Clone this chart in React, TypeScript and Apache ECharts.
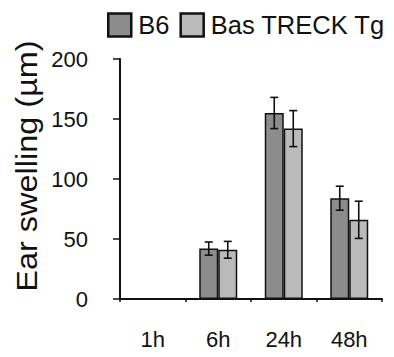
import React, { useEffect, useRef } from "react";
import * as echarts from "echarts";

const categories = ["1h", "6h", "24h", "48h"];
const b6Means: (number | null)[] = [null, 42, 155, 84];
const b6Errors: (number | null)[] = [null, 5.5, 13, 10];
const tgMeans: (number | null)[] = [null, 41, 142, 66];
const tgErrors: (number | null)[] = [null, 7, 15, 15.5];
const yTicks = [0, 50, 100, 150, 200];

const FONT = "'Liberation Sans', Arial, sans-serif";
const BAR_W = 19;

function errorSeries(means: (number | null)[], errs: (number | null)[], offset: number) {
  const data = means.map((m, i) => (m == null || errs[i] == null ? [i, null, null] : [i, m, errs[i]]));
  return {
    type: "custom",
    z: 5,
    silent: true,
    data,
    renderItem: (params: any, api: any) => {
      const idx = api.value(0);
      const m = api.value(1);
      const e = api.value(2);
      if (m == null || isNaN(m) || e == null || isNaN(e)) return null;
      const top = api.coord([idx, m + e]);
      const bot = api.coord([idx, m - e]);
      const x = top[0] + offset;
      const cap = 4;
      const style = { stroke: "#111", lineWidth: 1.6 };
      return {
        type: "group",
        children: [
          { type: "line", shape: { x1: x, y1: top[1], x2: x, y2: bot[1] }, style },
          { type: "line", shape: { x1: x - cap, y1: top[1], x2: x + cap, y2: top[1] }, style },
          { type: "line", shape: { x1: x - cap, y1: bot[1], x2: x + cap, y2: bot[1] }, style },
        ],
      };
    },
  };
}

export default function App() {
  const ref = useRef<HTMLDivElement>(null);
  useEffect(() => {
    if (!ref.current) return;
    const chart = echarts.init(ref.current, null, { renderer: "svg" });
    chart.setOption({
      animation: false,
      backgroundColor: "#ffffff",
      grid: { left: 120, right: 12, top: 59, bottom: 58, containLabel: false },
      legend: {
        left: 107,
        top: 12,
        padding: 0,
        orient: "horizontal",
        itemWidth: 23,
        itemHeight: 23,
        itemGap: 10,
        icon: "rect",
        itemStyle: { borderWidth: 2.5, borderColor: "#111" },
        textStyle: { fontFamily: FONT, fontSize: 25.5, color: "#111", padding: [0, 0, 0, 2] },
        data: ["B6", "Bas TRECK Tg"],
      },
      graphic: [
        {
          type: "text",
          x: 27,
          y: 166,
          rotation: Math.PI / 2,
          scaleX: 1.12,
          style: {
            text: "Ear swelling (µm)",
            align: "center",
            verticalAlign: "middle",
            font: `29px ${FONT}`,
            fill: "#111",
          },
        },
      ],
      xAxis: {
        type: "category",
        data: categories,
        axisLine: { lineStyle: { color: "#111", width: 2 } },
        axisTick: { show: true, length: 3, lineStyle: { color: "#111", width: 1.5 } },
        axisLabel: { fontFamily: FONT, fontSize: 22, color: "#111", margin: 29 },
      },
      yAxis: {
        type: "value",
        min: 0,
        max: 200,
        interval: 50,
        splitLine: { show: false },
        axisLine: { show: true, lineStyle: { color: "#111", width: 2 } },
        axisTick: { show: true, length: 7, lineStyle: { color: "#111", width: 1.5 } },
        axisLabel: {
          fontFamily: FONT,
          fontSize: 22,
          color: "#111",
          margin: 32,
          formatter: (v: number) => (yTicks.includes(v) ? String(v) : ""),
        },
      },
      series: [
        {
          name: "B6",
          type: "bar",
          data: b6Means,
          barWidth: BAR_W,
          barGap: "0%",
          itemStyle: { color: "#8c8c8c", borderColor: "#111", borderWidth: 1.5 },
        },
        {
          name: "Bas TRECK Tg",
          type: "bar",
          data: tgMeans,
          barWidth: BAR_W,
          barGap: "0%",
          itemStyle: { color: "#bababa", borderColor: "#111", borderWidth: 1.5 },
        },
        errorSeries(b6Means, b6Errors, -BAR_W / 2),
        errorSeries(tgMeans, tgErrors, BAR_W / 2),
      ],
    });
    return () => chart.dispose();
  }, []);
  return <div ref={ref} style={{ width: 394, height: 357, position: "absolute", left: 0, top: 0 }} />;
}
